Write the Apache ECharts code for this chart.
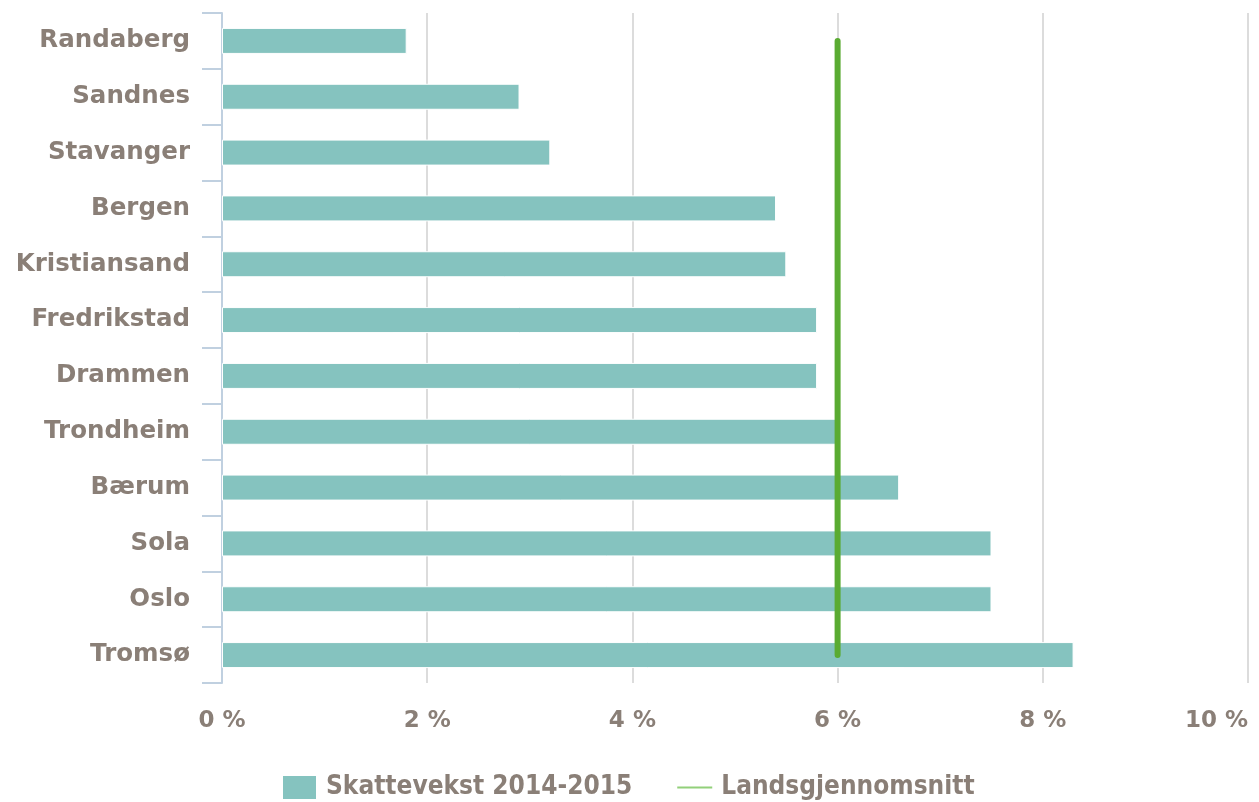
<!DOCTYPE html>
<html>
<head>
<meta charset="utf-8">
<script src="https://cdn.jsdelivr.net/npm/echarts@6/dist/echarts.min.js"></script>
<style>
  html, body { margin: 0; padding: 0; background: #fff; }
  #chart { width: 1259px; height: 802px; }
</style>
</head>
<body>
<div id="chart"></div>
<script>
// Municipalities, top to bottom
const categories = ['Randaberg', 'Sandnes', 'Stavanger', 'Bergen', 'Kristiansand', 'Fredrikstad',
  'Drammen', 'Trondheim', 'Bærum', 'Sola', 'Oslo', 'Tromsø'];
// Tax growth 2014–2015, percent
const skattevekst = [1.8, 2.9, 3.2, 5.4, 5.5, 5.8, 5.8, 6.0, 6.6, 7.5, 7.5, 8.3];
// National average, percent
const landsgjennomsnitt = [6, 6, 6, 6, 6, 6, 6, 6, 6, 6, 6, 6];
const xTicks = { min: 0, max: 10, interval: 2 };

const textColor = '#8a7f77';
const chart = echarts.init(document.getElementById('chart'));
chart.setOption({
  animation: false,
  textStyle: { fontFamily: 'DejaVu Sans' },
  grid: { left: 222, right: 11, top: 13, bottom: 119, outerBoundsMode: 'none', containLabel: false },
  legend: {
    top: 774,
    left: 281,
    padding: 0,
    itemGap: 45,
    itemWidth: 35,
    itemHeight: 25,
    textStyle: {
      color: textColor, fontFamily: 'DejaVu Sans Condensed', fontWeight: 'bold', fontSize: 26,
      padding: [0, 0, 0, 4]
    },
    data: [
      { name: 'Skattevekst 2014-2015', icon: 'rect' },
      { name: 'Landsgjennomsnitt', icon: 'path://M0,11.5 L34,11.5 L34,13.5 L0,13.5 Z', itemStyle: { color: '#92d07a' } }
    ]
  },
  xAxis: {
    type: 'value',
    min: xTicks.min,
    max: xTicks.max,
    interval: xTicks.interval,
    axisLine: { show: false },
    axisTick: { show: false },
    splitLine: { show: true, lineStyle: { color: '#dcdcdc', width: 2 } },
    axisLabel: {
      formatter: '{value} %',
      color: textColor,
      fontSize: 23,
      fontWeight: 'bold',
      margin: 27,
      alignMaxLabel: 'right'
    }
  },
  yAxis: {
    type: 'category',
    data: categories,
    inverse: true,
    axisLine: { show: true, lineStyle: { color: '#c0d0e0', width: 2 } },
    axisTick: { show: true, length: 20, lineStyle: { color: '#c0d0e0', width: 2 } },
    axisLabel: { color: textColor, fontSize: 24.5, fontWeight: 'bold', margin: 32, padding: [6, 0, 0, 0] }
  },
  series: [
    {
      name: 'Skattevekst 2014-2015',
      type: 'bar',
      data: skattevekst,
      barWidth: 26,
      itemStyle: { color: '#85c3bf', borderColor: '#ffffff', borderWidth: 1 }
    },
    {
      name: 'Landsgjennomsnitt',
      type: 'line',
      data: landsgjennomsnitt,
      symbol: 'none',
      lineStyle: { color: '#5aab32', width: 6, cap: 'round' },
      itemStyle: { color: '#5aab32' },
      z: 5
    }
  ]
});
</script>
</body>
</html>
